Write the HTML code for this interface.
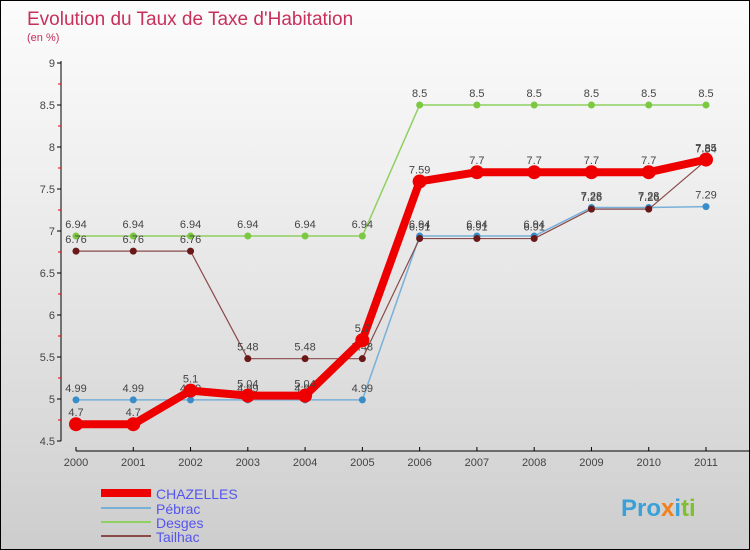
<!DOCTYPE html>
<html><head><meta charset="utf-8"><style>
body{margin:0}
#c{width:748px;height:548px;border:1px solid #000;background:linear-gradient(#fcfcfc,#f0f0f0 30%,#d8d8d8 80%,#cdcdcd);position:relative;font-family:"Liberation Sans",sans-serif;overflow:hidden}
text{font-family:"Liberation Sans",sans-serif}
</style></head><body>
<div id="c">
<svg id="s" width="748" height="548">
<text x="26" y="24" font-size="19" fill="#c8305a">Evolution du Taux de Taxe d'Habitation</text>
<text x="26" y="40" font-size="11" fill="#c8305a">(en %)</text>
<line x1="60" y1="60" x2="60" y2="440" stroke="#000"/>
<line x1="75" y1="450" x2="748" y2="450" stroke="#000"/>
<g id="ax"></g><g id="marks"></g>
<text x="620" y="515" font-size="24" font-weight="bold" fill="#3aa0d8">Pro<tspan fill="#f08020">x</tspan><tspan fill="#3aa0d8">i</tspan><tspan fill="#80c030">ti</tspan></text>
</svg></div>
<script>
const years=["2000","2001","2002","2003","2004","2005","2006","2007","2008","2009","2010","2011"];
const yTicks=[4.5,5,5.5,6,6.5,7,7.5,8,8.5,9];
const chazelles=[4.7,4.7,5.1,5.04,5.04,5.7,7.59,7.7,7.7,7.7,7.7,7.85];
const pebrac=[4.99,4.99,4.99,4.99,4.99,4.99,6.94,6.94,6.94,7.28,7.28,7.29];
const desges=[6.94,6.94,6.94,6.94,6.94,6.94,8.5,8.5,8.5,8.5,8.5,8.5];
const tailhac=[6.76,6.76,6.76,5.48,5.48,5.48,6.91,6.91,6.91,7.26,7.26,7.84];
const NS="http://www.w3.org/2000/svg";
const X=i=>75+i*(630/11);
const Y=v=>440-(v-4.5)*84;
function mk(t,a,p){const e=document.createElementNS(NS,t);for(const k in a)e.setAttribute(k,a[k]);p.appendChild(e);return e;}
const ax=document.getElementById('ax'),mg=document.getElementById('marks');
yTicks.forEach((v,i)=>{
 const l=mk('line',{x1:56,x2:60,y1:Y(v),y2:Y(v),stroke:'#000'},ax);
 
 
 if(i<yTicks.length-1){const m=mk('line',{x1:57,x2:60,y1:Y(v+0.25),y2:Y(v+0.25),stroke:'#e00'},ax);
 
 }
 const t=mk('text',{x:54,y:Y(v)+4,'font-size':11,fill:'#444','text-anchor':'end'},ax);t.textContent=v;
 
 
});
years.forEach((y,i)=>{
 const l=mk('line',{x1:X(i),x2:X(i),y1:446,y2:450,stroke:'#000'},ax);
 
 
 const t=mk('text',{x:X(i),y:465,'font-size':11,fill:'#444','text-anchor':'middle'},ax);t.textContent=y;
 
 
});
const series=[
 {n:'desges',d:desges,c:'#8fd060',w:1.5,r:3.5,f:'#7cc840'},
 {n:'pebrac',d:pebrac,c:'#78b0d8',w:1.5,r:3.5,f:'#3a8cc8'},
 {n:'tailhac',d:tailhac,c:'#8a4a4a',w:1.2,r:3.5,f:'#6a1818'},
 {n:'chazelles',d:chazelles,c:'#ee0000',w:8,r:7,f:'#ee0000'}];
series.forEach(s=>{
 const p=mk('polyline',{points:s.d.map((v,i)=>X(i)+','+Y(v)).join(' '),fill:'none',stroke:s.c,'stroke-width':s.w,'stroke-linejoin':'round'},mg);
 
 
 s.d.forEach((v,i)=>{
  const c=mk('circle',{cx:X(i),cy:Y(v),r:s.r,fill:s.f},mg);
  
  
  const t=mk('text',{x:X(i),y:Y(v)-8,'font-size':11,fill:'#444','text-anchor':'middle'},mg);t.textContent=v;
  
  
 });
});
const leg=[['CHAZELLES','#ee0000',8,497],['Pébrac','#78b0d8',2,512],['Desges','#8fd060',2,526],['Tailhac','#8a4a4a',2,540]];
leg.forEach(l=>{
 const ln=mk('line',{x1:100,x2:150,y1:l[3]-5,y2:l[3]-5,stroke:l[1],'stroke-width':l[2]},mg);
 
 
 const t=mk('text',{x:155,y:l[3]+1,'font-size':14,fill:'#5555ee'},mg);t.textContent=l[0];
 
 
});
</script>
</body></html>
